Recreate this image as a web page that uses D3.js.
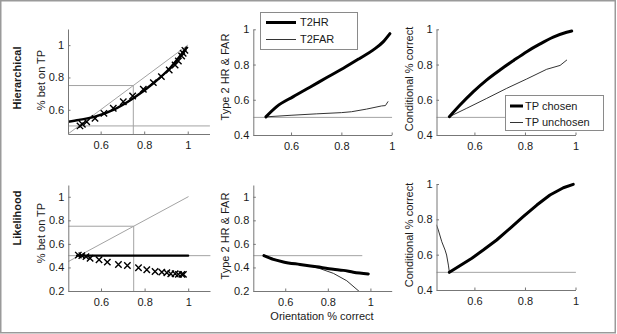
<!DOCTYPE html>
<html><head><meta charset="utf-8">
<script src="https://cdnjs.cloudflare.com/ajax/libs/d3/7.8.5/d3.min.js"></script>
<style>
body{margin:0;background:#fff}
svg{display:block;font-family:Arial,"Liberation Sans",sans-serif}
</style>
</head><body><svg id="c" width="617" height="334"></svg>
<script>
// ---------------- DATA ----------------
const xTicks = [0.6, 0.8, 1];
const yTicksH1 = [0.6, 0.8, 1];
const yTicksTop = [0.4, 0.6, 0.8, 1];
const yTicksL = [0.2, 0.4, 0.6, 0.8, 1];

// Hierarchical: % bet on TP
const hierCurveX = [0.45, 0.50, 0.574, 0.658, 0.75, 0.842, 0.918, 0.995];
const hierCurveY = [0.526, 0.537, 0.557, 0.599, 0.671, 0.764, 0.857, 0.985];
const hierMarkX = [0.505, 0.516, 0.536, 0.574, 0.615, 0.658, 0.704, 0.747, 0.796, 0.842, 0.879, 0.915, 0.942, 0.957, 0.972, 0.979, 0.987];
const hierMarkY = [0.500, 0.510, 0.526, 0.547, 0.578, 0.609, 0.650, 0.685, 0.727, 0.768, 0.805, 0.846, 0.877, 0.902, 0.933, 0.950, 0.968];

// Hierarchical: Type 2 HR & FAR
const t2hrX = [0.5, 0.543, 0.609, 0.675, 0.742, 0.808, 0.874, 0.927, 0.967, 0.993];
const t2hrY = [0.503, 0.561, 0.618, 0.671, 0.726, 0.779, 0.836, 0.883, 0.930, 0.975];
const t2farX = [0.5, 0.6, 0.7, 0.8, 0.84, 0.9, 0.96, 0.975, 0.985];
const t2farY = [0.503, 0.512, 0.52, 0.527, 0.532, 0.547, 0.565, 0.567, 0.589];

// Hierarchical: Conditional % correct
const chosenX = [0.501, 0.543, 0.596, 0.649, 0.701, 0.754, 0.807, 0.860, 0.912, 0.965, 0.985];
const chosenY = [0.504, 0.570, 0.646, 0.713, 0.769, 0.822, 0.873, 0.917, 0.955, 0.983, 0.99];
const unchosenX = [0.501, 0.570, 0.649, 0.728, 0.807, 0.886, 0.939, 0.965];
const unchosenY = [0.504, 0.552, 0.608, 0.665, 0.718, 0.773, 0.795, 0.825];

// Likelihood: % bet on TP
const likeFlatX = [0.49, 1.0];
const likeFlatY = [0.5, 0.5];
const likeMarkX = [0.496, 0.512, 0.531, 0.550, 0.591, 0.629, 0.680, 0.721, 0.772, 0.810, 0.848, 0.879, 0.902, 0.920, 0.940, 0.955, 0.971, 0.978];
const likeMarkY = [0.505, 0.500, 0.492, 0.478, 0.465, 0.445, 0.425, 0.417, 0.397, 0.380, 0.366, 0.360, 0.355, 0.347, 0.347, 0.341, 0.341, 0.341];

// Likelihood: Type 2 HR & FAR
const t2hrLX = [0.5, 0.544, 0.591, 0.669, 0.748, 0.826, 0.873, 0.92, 0.99];
const t2hrLY = [0.5, 0.468, 0.447, 0.425, 0.405, 0.385, 0.375, 0.36, 0.345];
const t2farLX = [0.5, 0.591, 0.7, 0.763, 0.826, 0.889, 0.945];
const t2farLY = [0.5, 0.447, 0.42, 0.39, 0.35, 0.287, 0.2];

// Likelihood: Conditional % correct
const chosenLX = [0.501, 0.536, 0.59, 0.635, 0.688, 0.741, 0.793, 0.847, 0.899, 0.952, 0.991];
const chosenLY = [0.5, 0.532, 0.58, 0.626, 0.683, 0.749, 0.815, 0.881, 0.938, 0.979, 0.998];
const unchosenLX = [0.45, 0.457, 0.471, 0.484, 0.490, 0.497, 0.501];
const unchosenLY = [0.768, 0.740, 0.673, 0.626, 0.598, 0.541, 0.5];

const rowLabels = ["Hierarchical", "Likelihood"];
const yLabels = ["% bet on TP", "Type 2 HR & FAR", "Conditional % correct"];
const xLabel = "Orientation % correct";
const legendTop = ["T2HR", "T2FAR"];
const legendRight = ["TP chosen", "TP unchosen"];

// ---------------- DRAW ----------------
const svg = d3.select("#c");
const REF = "#a3a3a3", AX = "#777", TXT = "#1a1a1a";

svg.append("rect").attr("x", 0.75).attr("y", 0.75).attr("width", 614.5).attr("height", 332)
  .attr("fill", "none").attr("stroke", "#9a9a9a").attr("stroke-width", 1.5);

const panels = [
  {box: [68, 29, 209.5, 134], xd: [0.45, 1.1], yd: [0.45, 1.1], yt: yTicksH1, yl: yLabels[0], ylx: 41, yly: 80},
  {box: [253.3, 29.3, 391.7, 135], xd: [0.45, 1], yd: [0.4, 1], yt: yTicksTop, yl: yLabels[1], ylx: 225, yly: 77},
  {box: [436.5, 29.3, 575.5, 135], xd: [0.45, 1], yd: [0.4, 1], yt: yTicksTop, yl: yLabels[2], ylx: 409.5, yly: 79},
  {box: [68.3, 185, 210, 291], xd: [0.45, 1.1], yd: [0.2, 1.1], yt: yTicksL, yl: yLabels[0], ylx: 41, yly: 233},
  {box: [253.3, 185, 391.7, 291], xd: [0.45, 1.1], yd: [0.2, 1.1], yt: yTicksL, yl: yLabels[1], ylx: 225, yly: 236},
  {box: [436.5, 184, 575.5, 290], xd: [0.45, 1], yd: [0.4, 1], yt: yTicksTop, yl: yLabels[2], ylx: 409.5, yly: 235}
];

panels.forEach((p, i) => {
  p.x = d3.scaleLinear().domain(p.xd).range([p.box[0], p.box[2]]);
  p.y = d3.scaleLinear().domain(p.yd).range([p.box[3], p.box[1]]);
  p.g = svg.append("g");
  const cid = "clip" + i;
  svg.append("clipPath").attr("id", cid).append("rect")
    .attr("x", p.box[0]).attr("y", p.box[1] - 2).attr("width", p.box[2] - p.box[0] + 1).attr("height", p.box[3] - p.box[1] + 2);
  p.plot = p.g.append("g").attr("clip-path", `url(#${cid})`);
});

function zip(xs, ys) { return xs.map((x, i) => [x, ys[i]]); }
function line(p, pts, color, width, curve) {
  const gen = d3.line().x(d => p.x(d[0])).y(d => p.y(d[1])).curve(curve || d3.curveMonotoneX);
  p.plot.append("path").attr("d", gen(pts)).attr("fill", "none")
    .attr("stroke", color).attr("stroke-width", width).attr("stroke-linejoin", "round").attr("stroke-linecap", "round");
}
function refLine(p, pts) { line(p, pts, REF, 1, d3.curveLinear); }
function marks(p, xs, ys) {
  const s = 3.2;
  p.plot.selectAll(null).data(zip(xs, ys)).enter().append("path")
    .attr("d", d => {
      const cx = p.x(d[0]), cy = p.y(d[1]);
      return `M${cx - s},${cy - s}L${cx + s},${cy + s}M${cx - s},${cy + s}L${cx + s},${cy - s}`;
    })
    .attr("stroke", "#000").attr("stroke-width", 1.4).attr("fill", "none");
}

// Panel 0: hierarchical bet
{
  const p = panels[0];
  refLine(p, [[0.45, 0.45], [1, 1]]);
  refLine(p, [[0.45, 0.75], [0.75, 0.75], [0.75, 0.45]]);
  refLine(p, [[0.45, 0.5], [1.1, 0.5]]);
  line(p, zip(hierCurveX, hierCurveY), "#000", 2.4);
  marks(p, hierMarkX, hierMarkY);
}
// Panel 1: hierarchical type 2
{
  const p = panels[1];
  refLine(p, [[0.45, 0.5], [1, 0.5]]);
  line(p, zip(t2farX, t2farY), "#333", 1, d3.curveLinear);
  line(p, zip(t2hrX, t2hrY), "#000", 3);
}
// Panel 2: hierarchical conditional
{
  const p = panels[2];
  refLine(p, [[0.45, 0.5], [1, 0.5]]);
  line(p, zip(unchosenX, unchosenY), "#333", 1, d3.curveLinear);
  line(p, zip(chosenX, chosenY), "#000", 3);
}
// Panel 3: likelihood bet
{
  const p = panels[3];
  refLine(p, [[0.45, 0.45], [1, 1]]);
  refLine(p, [[0.45, 0.75], [0.75, 0.75], [0.75, 0.2]]);
  refLine(p, [[0.45, 0.5], [1.1, 0.5]]);
  line(p, zip(likeFlatX, likeFlatY), "#000", 2.2, d3.curveLinear);
  marks(p, likeMarkX, likeMarkY);
}
// Panel 4: likelihood type 2
{
  const p = panels[4];
  refLine(p, [[0.45, 0.5], [0.96, 0.5]]);
  line(p, zip(t2farLX, t2farLY), "#333", 1, d3.curveLinear);
  line(p, zip(t2hrLX, t2hrLY), "#000", 3);
}
// Panel 5: likelihood conditional
{
  const p = panels[5];
  refLine(p, [[0.45, 0.5], [1, 0.5]]);
  line(p, zip(unchosenLX, unchosenLY), "#333", 1, d3.curveLinear);
  line(p, zip(chosenLX, chosenLY), "#000", 3, d3.curveLinear);
}

// Axes
const fmt = d => String(d);
panels.forEach(p => {
  const xa = p.g.append("g").attr("transform", `translate(0,${p.box[3]})`)
    .call(d3.axisBottom(p.x).tickValues(xTicks).tickFormat(fmt).tickSizeInner(-2.5).tickSizeOuter(0).tickPadding(7));
  const ya = p.g.append("g").attr("transform", `translate(${p.box[0]},0)`)
    .call(d3.axisLeft(p.y).tickValues(p.yt).tickFormat(fmt).tickSizeInner(-2.5).tickSizeOuter(0).tickPadding(4));
  [xa, ya].forEach(a => {
    a.select(".domain").attr("stroke", AX).attr("stroke-width", 1);
    a.selectAll(".tick line").attr("stroke", AX);
    a.selectAll("text").attr("fill", TXT).attr("font-size", 11).attr("font-family", "Arial, 'Liberation Sans', sans-serif");
  });
  p.g.append("text").attr("transform", `translate(${p.ylx},${p.yly}) rotate(-90)`)
    .attr("text-anchor", "middle").attr("dy", "0.35em").attr("font-size", 11).attr("fill", TXT).text(p.yl);
});

// Row labels
[[17.5, 78], [17.5, 218]].forEach((pos, i) => {
  svg.append("text").attr("transform", `translate(${pos[0]},${pos[1]}) rotate(-90)`)
    .attr("text-anchor", "middle").attr("dy", "0.35em").attr("font-size", 11).attr("font-weight", "bold")
    .attr("fill", TXT).text(rowLabels[i]);
});

// X label
svg.append("text").attr("x", 322).attr("y", 316.5).attr("dy", "0.35em").attr("text-anchor", "middle")
  .attr("font-size", 11).attr("fill", TXT).text(xLabel);

// Legends
function legend(x, y, w, h, items, lx0, lx1, tx, rows) {
  const g = svg.append("g");
  g.append("rect").attr("x", x).attr("y", y).attr("width", w).attr("height", h)
    .attr("fill", "#fff").attr("stroke", "#8a8a8a").attr("stroke-width", 1);
  items.forEach((t, i) => {
    g.append("line").attr("x1", lx0).attr("x2", lx1).attr("y1", rows[i]).attr("y2", rows[i])
      .attr("stroke", i === 0 ? "#000" : "#333").attr("stroke-width", i === 0 ? 3 : 1);
    g.append("text").attr("x", tx).attr("y", rows[i]).attr("dy", "0.35em").attr("font-size", 11)
      .attr("fill", TXT).text(t);
  });
}
legend(260.5, 12.5, 97, 37, legendTop, 266, 296, 300, [22.5, 39.5]);
legend(505.5, 95.5, 98, 35, legendRight, 510, 523, 525, [106, 122.5]);
</script></body></html>
